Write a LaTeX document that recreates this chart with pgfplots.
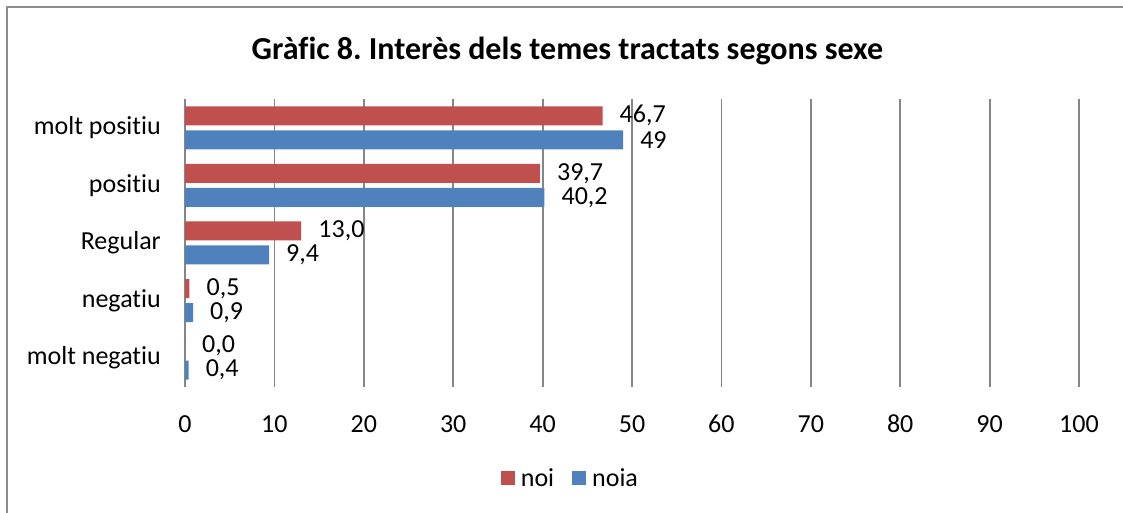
\documentclass[border=0pt]{standalone}
\usepackage{pgfplots}
\pgfplotsset{compat=1.18}
\usepackage{fontspec}
\setmainfont[RawFeature={-liga;-clig;-dlig}]{Carlito}
\frenchspacing
\definecolor{noired}{HTML}{C0504D}
\definecolor{noiablue}{HTML}{4F81BD}
\definecolor{gridgray}{HTML}{868686}
\definecolor{framegray}{HTML}{8C8C8C}
\begin{document}
\begin{tikzpicture}
\useasboundingbox (0,0) rectangle (1123pt,513pt);
\draw[framegray, line width=2pt] (7pt,0pt) -- (7pt,506pt) -- (1123pt,506pt);
\node[font=\fontsize{32}{36}\selectfont\bfseries] at (567.5pt,462pt) {Gràfic 8. Interès dels temes tractats segons sexe};
\begin{axis}[
  at={(185pt,126pt)}, anchor=south west,
  scale only axis, width=894pt, height=288pt,
  xbar, bar width=19pt,
  xmin=0, xmax=100, ymin=-0.5, ymax=4.5,
  xtick={0,10,...,100},
  ytick={0,1,2,3,4},
  yticklabels={molt negatiu,negatiu,Regular,positiu,molt positiu},
  axis line style={draw=none},
  xmajorgrids, major grid style={gridgray, line width=1.8pt},
  major tick length=0pt,
  /pgf/number format/assume math mode=true,
  tick label style={font=\fontsize{26}{30}\selectfont},
  xticklabel style={anchor=north, inner sep=0pt, yshift=-28pt},
  yticklabel style={anchor=east, inner sep=0pt, xshift=-24pt},
  point meta=explicit symbolic,
  nodes near coords,
  nodes near coords style={anchor=west, inner sep=0pt, xshift=17pt, font=\fontsize{26}{30}\selectfont, text=black},
  legend style={draw=none, at={(0.430,-0.316)}, anchor=center, legend columns=-1,
    font=\fontsize{26}{30}\selectfont, nodes={inner sep=0pt},
    /tikz/every odd column/.append style={column sep=6pt},
    /tikz/every even column/.append style={column sep=18pt}},
  legend image code/.code={\fill[#1] (0pt,-7pt) rectangle (14pt,7pt);},
]
\addplot[fill=noired, draw=none, bar shift=12pt] table[x=v, y=c, meta=l] {
c v l
0 0.0 0,0
1 0.5 0,5
2 13.0 13,0
3 39.7 39,7
4 46.7 46,7
};
\addplot[fill=noiablue, draw=none, bar shift=-12pt] table[x=v, y=c, meta=l] {
c v l
0 0.4 0,4
1 0.9 0,9
2 9.4 9,4
3 40.2 40,2
4 49 49
};
\legend{noi,noia}
\end{axis}
\end{tikzpicture}
\end{document}
